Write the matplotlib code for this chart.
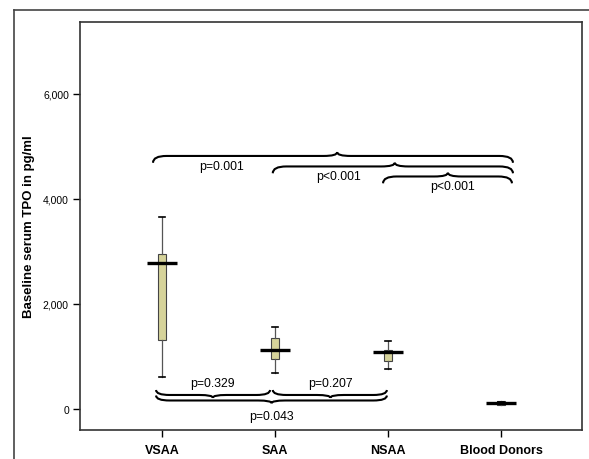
import numpy as np
import matplotlib.pyplot as plt
from matplotlib.path import Path
from matplotlib.patches import PathPatch
from matplotlib.lines import Line2D
from matplotlib.ticker import FuncFormatter

plt.rcParams['font.family'] = ['Liberation Sans', 'DejaVu Sans']

# data (pg/ml)
groups = ['VSAA', 'SAA', 'NSAA', 'Blood Donors']
whis_low = [615, 692, 756, 95]
q1 = [1314, 946, 920, 85]
center = [2775, 1117, 1086, 115]
q3 = [2952, 1352, 1130, 150]
whis_high = [3651, 1556, 1290, 140]
box_colors = ['#d6d39a', '#d6d39a', '#d6d39a', '#3a3a3a']

# brackets: (left end, right end, tip position, p label)
top_pairs = [(0.92, 4.106, 2.55, 'p=0.001'),
             (1.98, 4.106, 3.06, 'p<0.001'),
             (2.956, 4.097, 3.53, 'p<0.001')]
top_levels = [4819, 4619, 4428]
top_label_pos = [(1.53, 4629), (2.56, 4438), (3.575, 4248)]

bottom_pairs = [(0.947, 1.956, 1.45, 'p=0.329'),
                (1.98, 2.99, 2.49, 'p=0.207'),
                (0.947, 2.99, 1.97, 'p=0.043')]
bottom_levels = [267, 267, 162]
bottom_label_pos = [(1.45, 500), (2.49, 500), (1.97, -135)]

fig = plt.figure(figsize=(5.89, 4.60), dpi=100)
ax = fig.add_axes([80 / 589, 1 - 431 / 460, 502 / 589, 408 / 460])

pos = np.arange(1, len(groups) + 1)
stats = []
for i in range(len(groups)):
    stats.append(dict(med=center[i], q1=q1[i], q3=q3[i],
                      whislo=whis_low[i], whishi=whis_high[i], fliers=[]))
bp = ax.bxp(stats, positions=pos, widths=0.07, capwidths=0.045,
            patch_artist=True, showfliers=False,
            boxprops=dict(edgecolor='#444444', linewidth=0.8),
            whiskerprops=dict(color='#555555', linewidth=0.9),
            capprops=dict(color='black', linewidth=1.2),
            medianprops=dict(linewidth=0))
for patch, c in zip(bp['boxes'], box_colors):
    patch.set_facecolor(c)
ax.hlines(center, pos - 0.13, pos + 0.13, color='black', linewidth=2.4, zorder=4)


def brace(x0, x1, xm, yl, depth, r=0.12):
    # depth > 0: tip up, ends down; depth < 0: tip down, ends up
    ye = yl - depth
    yt = yl + depth * 0.55
    verts = [(x0, ye), (x0, yl), (x0 + r, yl),
             (xm - r, yl), (xm, yl), (xm, yt),
             (xm, yl), (xm + r, yl),
             (x1 - r, yl), (x1, yl), (x1, ye)]
    codes = [Path.MOVETO, Path.CURVE3, Path.CURVE3,
             Path.LINETO, Path.CURVE3, Path.CURVE3,
             Path.CURVE3, Path.CURVE3,
             Path.LINETO, Path.CURVE3, Path.CURVE3]
    ax.add_patch(PathPatch(Path(verts, codes), fill=False,
                           edgecolor='black', linewidth=1.5))


for (x0, x1, xm, lab), yl, (lx, ly) in zip(top_pairs, top_levels, top_label_pos):
    brace(x0, x1, xm, yl, 130)
    ax.text(lx, ly, lab, ha='center', va='center', fontsize=8.8)
for (x0, x1, xm, lab), yl, (lx, ly) in zip(bottom_pairs, bottom_levels, bottom_label_pos):
    brace(x0, x1, xm, yl, -95)
    ax.text(lx, ly, lab, ha='center', va='center', fontsize=8.8)

ax.set_xlim(0.274, 4.717)
ax.set_ylim(-400, 7370)
ax.set_yticks([0, 2000, 4000, 6000])
ax.yaxis.set_major_formatter(FuncFormatter(lambda v, p: f'{int(v):,}'))
ax.set_xticks(pos)
ax.set_xticklabels(groups, fontsize=9, fontweight='bold')
ax.tick_params(axis='y', labelsize=7.5, length=5, width=1, direction='out', pad=3)
ax.tick_params(axis='x', length=5, width=1, direction='out', pad=5)
ax.set_ylabel('Baseline serum TPO in pg/ml', fontsize=9.5, fontweight='bold', labelpad=6)
for s in ax.spines.values():
    s.set_color('#333333')
    s.set_linewidth(1.2)

# outer frame
fig.add_artist(Line2D([14 / 589, 14 / 589], [0, 1 - 11 / 460], transform=fig.transFigure,
                      color='#444444', linewidth=1.2))
fig.add_artist(Line2D([14 / 589, 1], [1 - 11 / 460, 1 - 11 / 460], transform=fig.transFigure,
                      color='#444444', linewidth=1.2))

fig.savefig('out.png', dpi=100)
